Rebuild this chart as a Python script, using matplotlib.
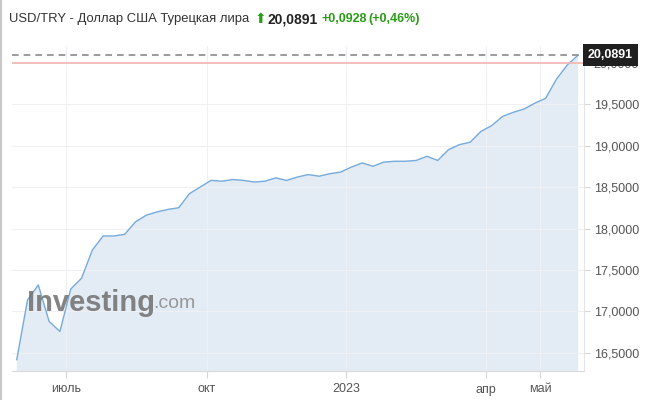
import matplotlib
matplotlib.use("Agg")
import matplotlib.pyplot as plt
import matplotlib.transforms as mtransforms
from matplotlib.lines import Line2D

# ---- data (weekly closes) ----
values = [16.42, 17.14, 17.32, 16.88, 16.76, 17.27, 17.40, 17.74, 17.91, 17.91,
          17.93, 18.08, 18.16, 18.20, 18.23, 18.25, 18.42, 18.50, 18.58, 18.57,
          18.59, 18.58, 18.56, 18.57, 18.61, 18.58, 18.62, 18.65, 18.63, 18.66,
          18.68, 18.74, 18.79, 18.75, 18.80, 18.81, 18.81, 18.82, 18.87, 18.82,
          18.95, 19.01, 19.04, 19.17, 19.24, 19.35, 19.40, 19.44, 19.51, 19.57,
          19.80, 19.97, 20.0891]
month_labels = ["июль", "окт", "2023", "апр", "май"]
month_pos = [4.54, 17.6, 30.5, 43.5, 48.5]
y_ticks = [16.5, 17.0, 17.5, 18.0, 18.5, 19.0, 19.5, 20.0]
last_price = 20.0891
ref_level = 20.0
title = "USD/TRY - Доллар США Турецкая лира"
change_abs = "+0,0928"
change_pct = "(+0,46%)"

plt.rcParams['font.family'] = ['Liberation Sans', 'DejaVu Sans']

W, H = 650, 400
fig = plt.figure(figsize=(6.5, 4.0), dpi=100)
fig.patch.set_facecolor('white')

left, right, bottom, top = 12, 584, 371, 46
ax = fig.add_axes([left / W, 1 - bottom / H, (right - left) / W, (bottom - top) / H])
ax.set_facecolor('white')

x = list(range(len(values)))
line_c = '#76abdb'
fill_c = '#e3ecf5'
ax.fill_between(x, values, 0, color=fill_c, lw=0, zorder=1)
ax.plot(x, values, color=line_c, lw=1.0, zorder=3)

ax.set_xlim(-0.44, 52.55)
ax.set_ylim(16.283, 20.199)

# grid
grid_c = '#eef0f3'
ax.set_yticks(y_ticks)
ax.set_yticklabels([f"{v:.4f}".replace('.', ',') for v in y_ticks])
ax.set_xticks(month_pos)
ax.set_xticklabels(month_labels)
ax.grid(True, color=grid_c, lw=0.8, zorder=2)
for gl in ax.get_xgridlines() + ax.get_ygridlines():
    gl.set_zorder(2)

ax.yaxis.tick_right()
ax.tick_params(axis='y', length=4, width=0.8, color='#d6d6d6', pad=3,
               labelsize=9, labelcolor='#555555')
ax.tick_params(axis='x', length=5, width=0.8, color='#d6d6d6', pad=4,
               labelsize=9, labelcolor='#555555')

for s in ['top', 'left']:
    ax.spines[s].set_visible(False)
ax.spines['bottom'].set_color('#d9d9d9')
ax.spines['right'].set_color('#e4e4e4')
ax.spines['bottom'].set_linewidth(0.8)
ax.spines['right'].set_linewidth(0.8)

# reference lines
ax.axhline(ref_level, color='#f4b4b4', lw=1.2, zorder=4)
ax.axhline(last_price, color='#8a8a8a', lw=1.2, ls=(0, (4, 3)), zorder=4)

# price label box (covers the top tick label, as in the original)
trans = mtransforms.blended_transform_factory(ax.transAxes, ax.transData)
ax.text(1.007, last_price, f"{last_price:.4f}".replace('.', ','), transform=trans,
        ha='left', va='center', color='white', fontsize=9, fontweight='bold',
        bbox=dict(boxstyle='square,pad=0.42', fc='#1f1f1f', ec='none'),
        clip_on=False, zorder=10)

# watermark
ax.text(27 / W, 1 - 303 / H, "Investing", transform=fig.transFigure,
        fontsize=21, fontweight='bold', color='#6f6f6f', alpha=0.85,
        ha='left', va='center', zorder=5)
ax.text(153 / W, 1 - 304 / H, ".com", transform=fig.transFigure,
        fontsize=14, color='#8a8a8a', alpha=0.85,
        ha='left', va='center', zorder=5)

# header
ty = 1 - 19 / H
fig.text(9 / W, ty, title, fontsize=9.4, color='#333333', ha='left', va='center')
fig.text(255 / W, ty, "⬆", fontsize=10, color='#2a9d16', ha='left', va='center',
         family=['DejaVu Sans'])
fig.text(268 / W, ty, f"{last_price:.4f}".replace('.', ','), fontsize=10,
         fontweight='bold', color='#222222', ha='left', va='center')
fig.text(322 / W, ty, change_abs, fontsize=9, fontweight='bold', color='#2a9d16',
         ha='left', va='center')
fig.text(368 / W, ty, change_pct, fontsize=9, fontweight='bold', color='#2a9d16',
         ha='left', va='center')

# left frame border
fig.add_artist(Line2D([0.5 / W, 0.5 / W], [0, 1], transform=fig.transFigure,
                      color='#c8c8c8', lw=1.5))

fig.savefig("out.png", dpi=100)
